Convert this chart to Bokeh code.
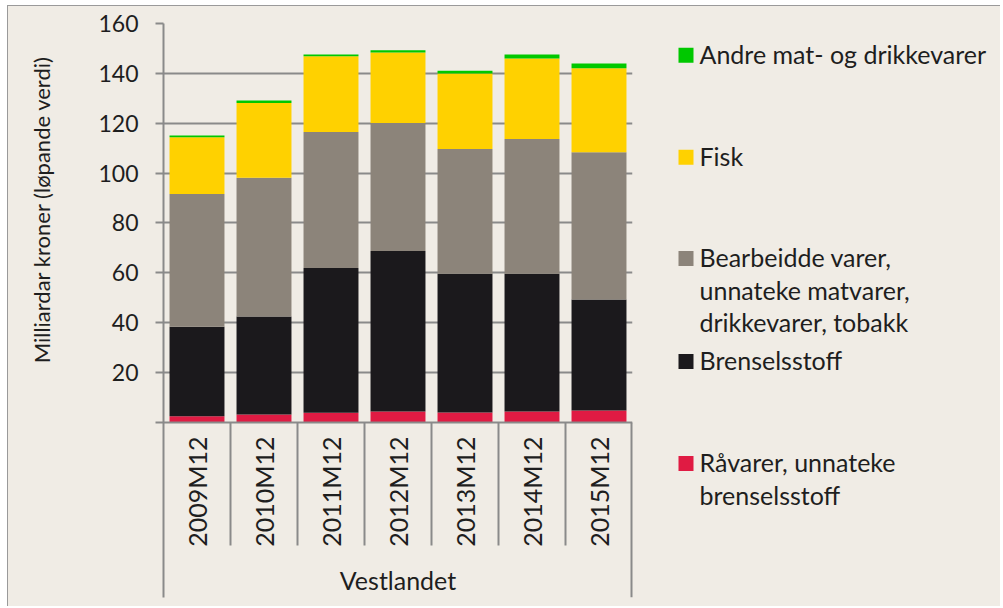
from bokeh.plotting import figure
from bokeh.models import FixedTicker, Range1d, Span, ColumnDataSource
from bokeh.layouts import row
from bokeh.embed import file_html
from bokeh.resources import INLINE
from bokeh.core.properties import value
import math

# ---------------- data ----------------
categories = ["2009M12", "2010M12", "2011M12", "2012M12", "2013M12", "2014M12", "2015M12"]
group_label = "Vestlandet"
raavarer   = [2.5, 3.2, 3.9, 4.4, 4.0, 4.4, 4.8]
brensel    = [35.9, 39.3, 58.0, 64.4, 55.6, 55.2, 44.5]
bearbeidde = [53.2, 55.6, 54.6, 51.3, 50.1, 54.1, 59.1]
fisk       = [22.8, 30.0, 30.4, 28.3, 30.2, 32.3, 33.7]
andre      = [0.7, 1.0, 0.7, 0.9, 1.2, 1.6, 1.9]
y_ticks = [0, 20, 40, 60, 80, 100, 120, 140, 160]
y_label = "Milliardar kroner (løpande verdi)"
series_names = ["Råvarer, unnateke\nbrenselsstoff", "Brenselsstoff",
                "Bearbeidde varer,\nunnateke matvarer,\ndrikkevarer, tobakk",
                "Fisk", "Andre mat- og drikkevarer"]
series_colors = ["#E01B43", "#1B191C", "#8C847A", "#FFD100", "#00C800"]

# ---------------- style ----------------
BG = "#F0ECE5"
AX = "#8A8A8A"
TXT = "#1E1E1E"
FONT = "Lato"

n = len(categories)
xs = [i + 0.5 for i in range(n)]
y_bottom = -70.2
H = 600
TOP, BOT = 17, 9          # frame borders shared by all three panels

src = ColumnDataSource(dict(x=xs, r=raavarer, b=brensel, g=bearbeidde, f=fisk, a=andre, cat=categories))


def side_panel(w):
    f = figure(width=w, height=H, x_range=Range1d(0, w), y_range=Range1d(H - BOT, TOP),
               output_backend="svg", toolbar_location=None, x_axis_location=None, y_axis_location=None,
               min_border_left=0, min_border_right=0, min_border_top=TOP, min_border_bottom=BOT,
               background_fill_color=BG, border_fill_color=BG, outline_line_color=None)
    f.xgrid.visible = False
    f.ygrid.visible = False
    return f


# ---------------- axis-title strip ----------------
LABW = 60
lab = side_panel(LABW)
lab.text(x=[33], y=[203], text=[y_label], angle=math.pi / 2, text_align="center", text_baseline="middle",
         text_font=value(FONT), text_font_size="22px", text_color=TXT)

# ---------------- main chart ----------------
p = figure(width=575, height=H, x_range=Range1d(0, n), y_range=Range1d(y_bottom, 160),
           output_backend="svg", toolbar_location=None, x_axis_location=None,
           min_border_left=95, min_border_right=11, min_border_top=TOP, min_border_bottom=BOT,
           background_fill_color=BG, border_fill_color=BG, outline_line_color=None)

p.vbar_stack(["r", "b", "g", "f", "a"], x="x", width=0.82, source=src,
             color=series_colors, line_color=None)

ya = p.yaxis[0]
ya.ticker = FixedTicker(ticks=y_ticks)
ya.major_label_overrides = {0: ""}
ya.minor_tick_line_color = None
ya.major_tick_in = 0
ya.major_tick_out = 8
ya.major_tick_line_color = AX
ya.major_tick_line_width = 2
ya.axis_line_color = AX
ya.axis_line_width = 2
ya.major_label_standoff = 17
ya.major_label_text_font = FONT
ya.major_label_text_font_size = "23px"
ya.major_label_text_color = TXT

p.xgrid.visible = False
p.ygrid.ticker = FixedTicker(ticks=[t for t in y_ticks if t > 0])
p.ygrid.grid_line_color = AX
p.ygrid.grid_line_width = 2

p.add_layout(Span(location=0, dimension="width", line_color=AX, line_width=2))

inner = list(range(1, n))
p.segment(x0=inner, y0=[0] * len(inner), x1=inner, y1=[-49.3] * len(inner), line_color=AX, line_width=2)
p.segment(x0=[n], y0=[0], x1=[n], y1=[y_bottom], line_color=AX, line_width=4)

p.text(x="x", y=-27.7, text="cat", source=src, angle=math.pi / 2, text_align="center",
       text_baseline="middle", text_font=value(FONT), text_font_size="25px", text_color=TXT)
p.text(x=[n / 2], y=[-63], text=[group_label], text_align="center", text_baseline="middle",
       text_font=value(FONT), text_font_size="25px", text_color=TXT)

# ---------------- legend ----------------
LW = 357
lg = side_panel(LW)
entry_y = [455.5, 353.5, 250.5, 149.2, 47.2]   # first-line centre of each entry, top-down
line_h = 32.5
sq_x, sq_y, sq_c = [], [], []
tx, ty, tt = [], [], []
for k in range(len(series_names)):
    sq_x.append(42.5)
    sq_y.append(entry_y[k] + 1.5)
    sq_c.append(series_colors[k])
    for j, ln in enumerate(series_names[k].split("\n")):
        tx.append(56)
        ty.append(entry_y[k] + j * line_h)
        tt.append(ln)
lg.rect(x=sq_x, y=sq_y, width=15, height=15, width_units="screen", height_units="screen",
        color=sq_c, line_color=None)
lg.text(x=tx, y=ty, text=tt, text_align="left", text_baseline="middle",
        text_font=value(FONT), text_font_size="25px", text_color=TXT)

layout = row(lab, p, lg, styles={"margin-left": "7px", "margin-top": "5px",
                                 "border-left": "1px solid #9A9A9A", "border-top": "1px solid #9A9A9A",
                                 "background-color": BG})

open("out.html", "w").write(file_html(layout, INLINE))
